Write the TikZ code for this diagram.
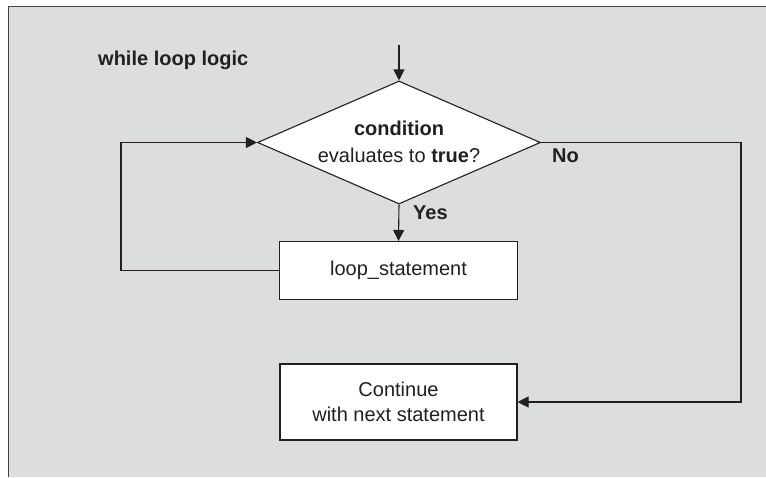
\documentclass[tikz,border=0pt]{standalone}
\usepackage{fontspec}
\setmainfont{Liberation Sans}
\usetikzlibrary{shapes.geometric,arrows.meta}
\definecolor{panel}{HTML}{DCDDDF}
\definecolor{ink}{HTML}{231F20}
\begin{document}
\begin{tikzpicture}[x=1pt,y=-1pt,
  every node/.style={text=ink,font=\fontsize{20}{25}\selectfont},
  flow/.style={draw=ink,line width=1.1pt},
  arrow/.style={flow,-{Triangle[length=11pt,width=11pt]}},
  procbox/.style={draw=ink,line width=1.1pt,fill=white,inner sep=0pt,align=center},
  decision/.style={diamond,draw=ink,line width=1.1pt,fill=white,inner sep=0pt,
    minimum width=283pt,minimum height=123pt},
  tag/.style={font=\fontsize{20}{25}\selectfont\bfseries,inner sep=0pt}]
\useasboundingbox (0,0) rectangle (766,477);
% panel
\fill[panel] (9,6) rectangle (766,477);
\draw[ink!85,line width=1.6pt] (8.5,477) -- (8.5,6.5) -- (766,6.5);

\node[tag,anchor=base west] (title) at (98,65) {while loop logic};

\coordinate (entry) at (399,45);
\node[decision] (cond) at (399,142.5) {};
\node[align=center,inner sep=0pt,font=\fontsize{20}{26.6}\selectfont] (condtext) at (399,142)
  {\textbf{condition}\\evaluates to \textbf{true}?};

\node[procbox,minimum width=238pt,minimum height=58pt] (body) at (398.5,270.5) {loop\_statement};
\node[procbox,minimum width=237pt,minimum height=76pt,font=\fontsize{20}{25}\selectfont] (next) at (398.5,402)
  {Continue\\with next statement};

\coordinate (back) at (121,270.5);
\coordinate (exit) at (741,142.5);

\draw[arrow] (entry) -- (cond.north);
\draw[arrow] (cond.south) -- (body.north);
\draw[arrow] (body.west) -- (back) |- (cond.west);
\draw[arrow] (cond.east) -- (exit) |- (next.east);

\node[tag,anchor=base west] (yes) at (413,219.3) {Yes};
\node[tag,anchor=base west] (no) at (552,162.7) {No};
\end{tikzpicture}
\end{document}
